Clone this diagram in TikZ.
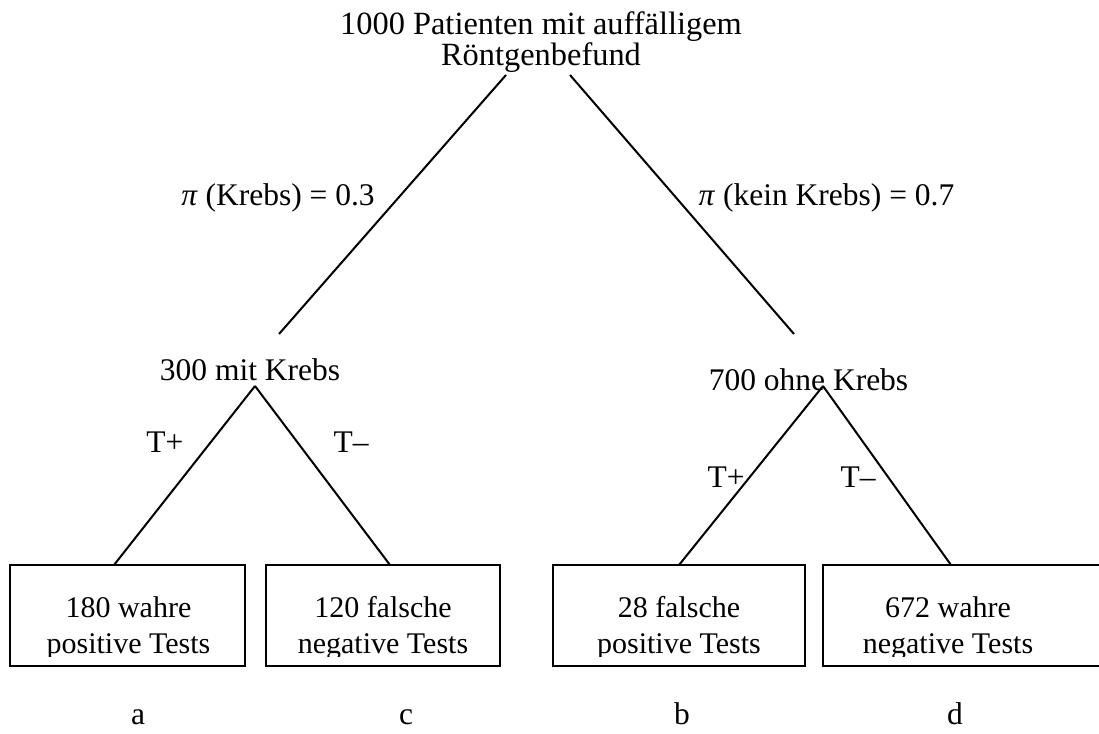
\documentclass[tikz,border=0pt]{standalone}
\usepackage{fontspec}
\setmainfont{Liberation Serif}
\begin{document}
\begin{tikzpicture}[x=1pt,y=-1pt,
  lbl/.style={inner sep=0pt, anchor=base, font=\fontsize{31.5}{31}\selectfont},
  boxtxt/.style={inner sep=0pt, anchor=base, align=center, font=\fontsize{30}{36}\selectfont},
  edge/.style={line width=2pt},
  tbox/.style={draw, line width=2pt, inner sep=0pt, minimum height=101pt}]
\useasboundingbox (0,0) rectangle (1099,733);
% texts
\node[lbl, align=center, font=\fontsize{32.4}{31}\selectfont] (root) at (541,66) {1000 Patienten mit auffälligem\\Röntgenbefund};
\node[lbl] (pk) at (278,205) {\textit{π} (Krebs) = 0.3};
\node[lbl] (pnk) at (826.5,205) {\textit{π} (kein Krebs) = 0.7};
\node[lbl] (mk) at (250,380) {300 mit Krebs};
\node[lbl] (ok) at (808.5,390) {700 ohne Krebs};
\node[lbl] (tp1) at (165,452) {T+};
\node[lbl] (tm1) at (351,452) {T–};
\node[lbl] (tp2) at (726,487) {T+};
\node[lbl] (tm2) at (858,487) {T–};
% coordinates of connectors
\coordinate (rl) at (506,75);
\coordinate (rr) at (570,75);
\coordinate (kt) at (279,334);
\coordinate (nt) at (794,334);
\coordinate (ka) at (255,386);
\coordinate (na) at (823,386);
% boxes
\node[tbox, minimum width=235pt] (b1) at (127.5,615.5) {};
\node[tbox, minimum width=234pt] (b2) at (383,615.5) {};
\node[tbox, minimum width=252pt] (b3) at (679,615.5) {};
\node[tbox, minimum width=287pt] (b4) at (966.5,615.5) {};
\coordinate (b1t) at (114,565);
\coordinate (b2t) at (390,565);
\coordinate (b3t) at (679,565);
\coordinate (b4t) at (951,565);
% connectors
\draw[edge] (rl) -- (kt);
\draw[edge] (rr) -- (nt);
\draw[edge] (ka) -- (b1t);
\draw[edge] (ka) -- (b2t);
\draw[edge] (na) -- (b3t);
\draw[edge] (na) -- (b4t);
% box texts (bottom cut off as in the original)
\begin{scope}
\clip (0,560) rectangle (1099,656);
\node[boxtxt] (t1) at (128.5,653) {180 wahre\\positive Tests};
\node[boxtxt] (t2) at (383,653) {120 falsche\\negative Tests};
\node[boxtxt] (t3) at (679,653) {28 falsche\\positive Tests};
\node[boxtxt] (t4) at (948,653) {672 wahre\\negative Tests};
\end{scope}
% bottom letters
\node[lbl] (la) at (138,724) {a};
\node[lbl] (lc) at (406,724) {c};
\node[lbl] (lb) at (682,724) {b};
\node[lbl] (ld) at (955,724) {d};
\end{tikzpicture}
\end{document}
